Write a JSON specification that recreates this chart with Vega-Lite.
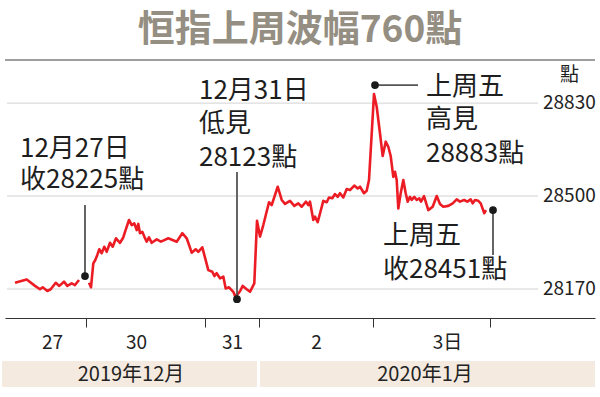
{
  "$schema": "https://vega.github.io/schema/vega-lite/v6.json",
  "width": 590,
  "height": 258,
  "autosize": {"type": "none"},
  "padding": {"left": 5, "right": 5, "top": 60, "bottom": 79},
  "background": "white",
  "config": {"view": {"stroke": null}, "font": "Noto Sans CJK TC"},
  "title": {"text": "恒指上周波幅760點", "fontSize": 37, "fontWeight": "bold", "color": "#958e82", "anchor": "middle", "frame": "group", "offset": 9, "font": "Noto Sans CJK TC"},
  "resolve": {"axis": {"x": "independent"}},
  "datasets": {
    "hsi": [
      {"seg": "a", "t": 10, "v": 28192}, {"seg": "a", "t": 21.7, "v": 28204}, {"seg": "a", "t": 30, "v": 28181}, {"seg": "a", "t": 35, "v": 28169},
      {"seg": "a", "t": 37.7, "v": 28176}, {"seg": "a", "t": 42.3, "v": 28163}, {"seg": "a", "t": 45.7, "v": 28169}, {"seg": "a", "t": 50.7, "v": 28192},
      {"seg": "a", "t": 54.3, "v": 28181}, {"seg": "a", "t": 59, "v": 28196}, {"seg": "a", "t": 62.3, "v": 28181}, {"seg": "a", "t": 66.7, "v": 28190},
      {"seg": "a", "t": 70, "v": 28184}, {"seg": "a", "t": 74, "v": 28202},
      {"seg": "b", "t": 84, "v": 28192}, {"seg": "b", "t": 86, "v": 28176}, {"seg": "b", "t": 88.3, "v": 28261}, {"seg": "b", "t": 90.3, "v": 28273},
      {"seg": "b", "t": 92.3, "v": 28291}, {"seg": "b", "t": 94.3, "v": 28311}, {"seg": "b", "t": 96.7, "v": 28297}, {"seg": "b", "t": 99.3, "v": 28320},
      {"seg": "b", "t": 101.7, "v": 28302}, {"seg": "b", "t": 105, "v": 28334}, {"seg": "b", "t": 107.7, "v": 28320}, {"seg": "b", "t": 111, "v": 28350},
      {"seg": "b", "t": 115, "v": 28334}, {"seg": "b", "t": 118.3, "v": 28353}, {"seg": "b", "t": 120, "v": 28373}, {"seg": "b", "t": 124, "v": 28415},
      {"seg": "b", "t": 126.7, "v": 28397}, {"seg": "b", "t": 129.3, "v": 28403}, {"seg": "b", "t": 131.7, "v": 28379}, {"seg": "b", "t": 133.3, "v": 28401},
      {"seg": "b", "t": 135, "v": 28368}, {"seg": "b", "t": 137.3, "v": 28373}, {"seg": "b", "t": 139.3, "v": 28356}, {"seg": "b", "t": 141.7, "v": 28338},
      {"seg": "b", "t": 144, "v": 28353}, {"seg": "b", "t": 146.7, "v": 28334}, {"seg": "b", "t": 151.7, "v": 28346}, {"seg": "b", "t": 156, "v": 28338},
      {"seg": "b", "t": 163.3, "v": 28350}, {"seg": "b", "t": 171.7, "v": 28338}, {"seg": "b", "t": 177.3, "v": 28368}, {"seg": "b", "t": 181.7, "v": 28350},
      {"seg": "b", "t": 186.7, "v": 28299}, {"seg": "b", "t": 190.7, "v": 28311}, {"seg": "b", "t": 193.3, "v": 28302}, {"seg": "b", "t": 197.3, "v": 28318},
      {"seg": "b", "t": 199.3, "v": 28291}, {"seg": "b", "t": 203.3, "v": 28237}, {"seg": "b", "t": 207.3, "v": 28231}, {"seg": "b", "t": 209.3, "v": 28216},
      {"seg": "b", "t": 211.7, "v": 28226}, {"seg": "b", "t": 215, "v": 28208}, {"seg": "b", "t": 218.3, "v": 28214}, {"seg": "b", "t": 220.7, "v": 28172},
      {"seg": "b", "t": 224, "v": 28176}, {"seg": "b", "t": 228.3, "v": 28160}, {"seg": "b", "t": 230.5, "v": 28142}, {"seg": "b", "t": 235, "v": 28162},
      {"seg": "b", "t": 237.7, "v": 28181}, {"seg": "b", "t": 241.7, "v": 28169}, {"seg": "b", "t": 245, "v": 28160}, {"seg": "b", "t": 249.3, "v": 28190},
      {"seg": "b", "t": 252, "v": 28412}, {"seg": "b", "t": 255, "v": 28356}, {"seg": "b", "t": 258.3, "v": 28397}, {"seg": "b", "t": 264, "v": 28478},
      {"seg": "b", "t": 266.7, "v": 28468}, {"seg": "b", "t": 272.7, "v": 28533}, {"seg": "b", "t": 276.7, "v": 28486}, {"seg": "b", "t": 280, "v": 28472},
      {"seg": "b", "t": 285, "v": 28483}, {"seg": "b", "t": 289.3, "v": 28465}, {"seg": "b", "t": 293.3, "v": 28474}, {"seg": "b", "t": 296.7, "v": 28462},
      {"seg": "b", "t": 301, "v": 28480}, {"seg": "b", "t": 303.3, "v": 28468}, {"seg": "b", "t": 305, "v": 28480}, {"seg": "b", "t": 308.3, "v": 28415},
      {"seg": "b", "t": 310, "v": 28427}, {"seg": "b", "t": 312.7, "v": 28407}, {"seg": "b", "t": 318.3, "v": 28483}, {"seg": "b", "t": 321.7, "v": 28478},
      {"seg": "b", "t": 324, "v": 28495}, {"seg": "b", "t": 327.3, "v": 28492}, {"seg": "b", "t": 330, "v": 28507}, {"seg": "b", "t": 332.7, "v": 28497},
      {"seg": "b", "t": 335, "v": 28510}, {"seg": "b", "t": 338.3, "v": 28495}, {"seg": "b", "t": 341.7, "v": 28525}, {"seg": "b", "t": 345, "v": 28521},
      {"seg": "b", "t": 349.3, "v": 28537}, {"seg": "b", "t": 352.7, "v": 28527}, {"seg": "b", "t": 355, "v": 28533}, {"seg": "b", "t": 359, "v": 28510},
      {"seg": "b", "t": 361.7, "v": 28519}, {"seg": "b", "t": 364, "v": 28557}, {"seg": "b", "t": 369, "v": 28862}, {"seg": "b", "t": 371.7, "v": 28817},
      {"seg": "b", "t": 375, "v": 28722}, {"seg": "b", "t": 377.7, "v": 28642}, {"seg": "b", "t": 380.7, "v": 28693}, {"seg": "b", "t": 383.3, "v": 28675},
      {"seg": "b", "t": 385.7, "v": 28642}, {"seg": "b", "t": 388.3, "v": 28568}, {"seg": "b", "t": 390, "v": 28586}, {"seg": "b", "t": 391.7, "v": 28557},
      {"seg": "b", "t": 393.3, "v": 28456}, {"seg": "b", "t": 395.7, "v": 28510}, {"seg": "b", "t": 398.3, "v": 28557}, {"seg": "b", "t": 400.7, "v": 28510},
      {"seg": "b", "t": 402.7, "v": 28480}, {"seg": "b", "t": 405, "v": 28497}, {"seg": "b", "t": 406.7, "v": 28486}, {"seg": "b", "t": 409.3, "v": 28497},
      {"seg": "b", "t": 411.7, "v": 28486}, {"seg": "b", "t": 414.3, "v": 28492}, {"seg": "b", "t": 416, "v": 28480}, {"seg": "b", "t": 419, "v": 28500},
      {"seg": "b", "t": 423.3, "v": 28450}, {"seg": "b", "t": 427.7, "v": 28462}, {"seg": "b", "t": 431.7, "v": 28500}, {"seg": "b", "t": 435, "v": 28472},
      {"seg": "b", "t": 438.3, "v": 28462}, {"seg": "b", "t": 443.3, "v": 28465}, {"seg": "b", "t": 447.7, "v": 28474}, {"seg": "b", "t": 451.7, "v": 28488},
      {"seg": "b", "t": 455, "v": 28480}, {"seg": "b", "t": 459, "v": 28486}, {"seg": "b", "t": 462.3, "v": 28480}, {"seg": "b", "t": 465.7, "v": 28488},
      {"seg": "b", "t": 467.7, "v": 28474}, {"seg": "b", "t": 470, "v": 28486}, {"seg": "b", "t": 473.3, "v": 28483}, {"seg": "b", "t": 475.7, "v": 28474},
      {"seg": "b", "t": 479.3, "v": 28439}, {"seg": "b", "t": 481, "v": 28450}
    ],
    "grid": [{"v": 28170}, {"v": 28500}, {"v": 28830}],
    "ylabels": [
      {"t": 538, "v": 28170, "lab": "28170"},
      {"t": 538, "v": 28500, "lab": "28500"},
      {"t": 538, "v": 28830, "lab": "28830"},
      {"t": 555, "v": 28930, "lab": "點"}
    ],
    "band": [
      {"t": -3, "t2": 252, "tc": 126, "lab": "2019年12月"},
      {"t": 255, "t2": 590, "tc": 420, "lab": "2020年1月"}
    ],
    "leaders": [
      {"t": 80, "t2": 80, "v": 28216, "v2": 28468},
      {"t": 232, "t2": 232, "v": 28134, "v2": 28585},
      {"t": 370, "t2": 413, "v": 28894, "v2": 28894},
      {"t": 488, "t2": 488, "v": 28450, "v2": 28291}
    ],
    "dots": [
      {"t": 80, "v": 28216}, {"t": 232, "v": 28134}, {"t": 370, "v": 28894}, {"t": 488, "v": 28450}
    ],
    "notes": [
      {"t": 15, "v": 28639, "txt": "12月27日"},
      {"t": 15, "v": 28528, "txt": "收28225點"},
      {"t": 194, "v": 28844, "txt": "12月31日"},
      {"t": 194, "v": 28726, "txt": "低見"},
      {"t": 194, "v": 28607, "txt": "28123點"},
      {"t": 421, "v": 28859, "txt": "上周五"},
      {"t": 421, "v": 28740, "txt": "高見"},
      {"t": 421, "v": 28621, "txt": "28883點"},
      {"t": 378, "v": 28330, "txt": "上周五"},
      {"t": 378, "v": 28209, "txt": "收28451點"}
    ]
  },
  "layer": [
    {
      "data": {"name": "grid"},
      "mark": {"type": "rule", "color": "#9c9c9c", "strokeWidth": 1.5},
      "encoding": {
        "y": {"datum": 28983, "type": "quantitative", "scale": {"domain": [28067, 28983], "nice": false, "zero": false}, "axis": null}
      }
    },
    {
      "data": {"name": "grid"},
      "mark": {"type": "rule", "color": "#d2d2d2", "strokeWidth": 1},
      "encoding": {
        "x": {"datum": 2, "type": "quantitative", "scale": {"domain": [0, 590], "nice": false, "zero": false}, "axis": null},
        "x2": {"datum": 533},
        "y": {"field": "v", "type": "quantitative", "scale": {"domain": [28067, 28983], "nice": false, "zero": false}, "axis": null}
      }
    },
    {
      "data": {"name": "ylabels"},
      "mark": {"type": "text", "align": "left", "baseline": "middle", "fontSize": 19, "color": "#222222"},
      "encoding": {
        "x": {"field": "t", "type": "quantitative", "scale": {"domain": [0, 590], "nice": false, "zero": false}, "axis": null},
        "y": {"field": "v", "type": "quantitative", "scale": {"domain": [28067, 28983], "nice": false, "zero": false}, "axis": null},
        "text": {"field": "lab"}
      }
    },
    {
      "data": {"name": "band"},
      "mark": {"type": "rect", "color": "#f4eae0"},
      "encoding": {
        "x": {"field": "t", "type": "quantitative", "scale": {"domain": [0, 590], "nice": false, "zero": false}, "axis": null},
        "x2": {"field": "t2"},
        "y": {"datum": 27914, "type": "quantitative", "scale": {"domain": [28067, 28983], "nice": false, "zero": false}, "axis": null},
        "y2": {"datum": 27822}
      }
    },
    {
      "data": {"name": "band"},
      "mark": {"type": "text", "fontSize": 20, "color": "#222222", "align": "center", "baseline": "middle"},
      "encoding": {
        "x": {"field": "tc", "type": "quantitative", "scale": {"domain": [0, 590], "nice": false, "zero": false}, "axis": null},
        "y": {"datum": 27865, "type": "quantitative", "scale": {"domain": [28067, 28983], "nice": false, "zero": false}, "axis": null},
        "text": {"field": "lab"}
      }
    },
    {
      "data": {"name": "hsi"},
      "mark": {"type": "line", "color": "#ec1c24", "strokeWidth": 2.6, "strokeJoin": "round"},
      "encoding": {
        "x": {"field": "t", "type": "quantitative", "scale": {"domain": [0, 590], "nice": false, "zero": false},
          "axis": {"orient": "bottom", "values": [81, 200, 253.5, 368, 485], "labels": false, "ticks": true, "tickSize": 9, "tickColor": "#333333", "tickWidth": 1, "domain": true, "domainColor": "#333333", "domainWidth": 1.2, "grid": false, "title": null}},
        "y": {"field": "v", "type": "quantitative", "scale": {"domain": [28067, 28983], "nice": false, "zero": false}, "axis": null},
        "detail": {"field": "seg"}
      }
    },
    {
      "data": {"name": "leaders"},
      "mark": {"type": "rule", "color": "#555555", "strokeWidth": 1.8},
      "encoding": {
        "x": {"field": "t", "type": "quantitative", "scale": {"domain": [0, 590], "nice": false, "zero": false}, "axis": null},
        "x2": {"field": "t2"},
        "y": {"field": "v", "type": "quantitative", "scale": {"domain": [28067, 28983], "nice": false, "zero": false}, "axis": null},
        "y2": {"field": "v2"}
      }
    },
    {
      "data": {"name": "dots"},
      "mark": {"type": "circle", "color": "#1a1a1a", "opacity": 1, "size": 60},
      "encoding": {
        "x": {"field": "t", "type": "quantitative", "scale": {"domain": [0, 590], "nice": false, "zero": false}, "axis": null},
        "y": {"field": "v", "type": "quantitative", "scale": {"domain": [28067, 28983], "nice": false, "zero": false}, "axis": null}
      }
    },
    {
      "data": {"name": "notes"},
      "mark": {"type": "text", "align": "left", "baseline": "alphabetic", "fontSize": 26, "color": "#1e1e1e"},
      "encoding": {
        "x": {"field": "t", "type": "quantitative", "scale": {"domain": [0, 590], "nice": false, "zero": false},
          "axis": {"orient": "bottom", "values": [47, 131, 227, 311, 442], "labelExpr": "datum.value == 47 ? '27' : datum.value == 131 ? '30' : datum.value == 227 ? '31' : datum.value == 311 ? '2' : '3日'", "ticks": false, "tickSize": 0, "domain": false, "grid": false, "labelPadding": 15, "labelFontSize": 19, "labelColor": "#222222", "labelFont": "Noto Sans CJK TC", "labelFlush": false, "labelOverlap": false, "title": null}},
        "y": {"field": "v", "type": "quantitative", "scale": {"domain": [28067, 28983], "nice": false, "zero": false}, "axis": null},
        "text": {"field": "txt"}
      }
    }
  ]
}
